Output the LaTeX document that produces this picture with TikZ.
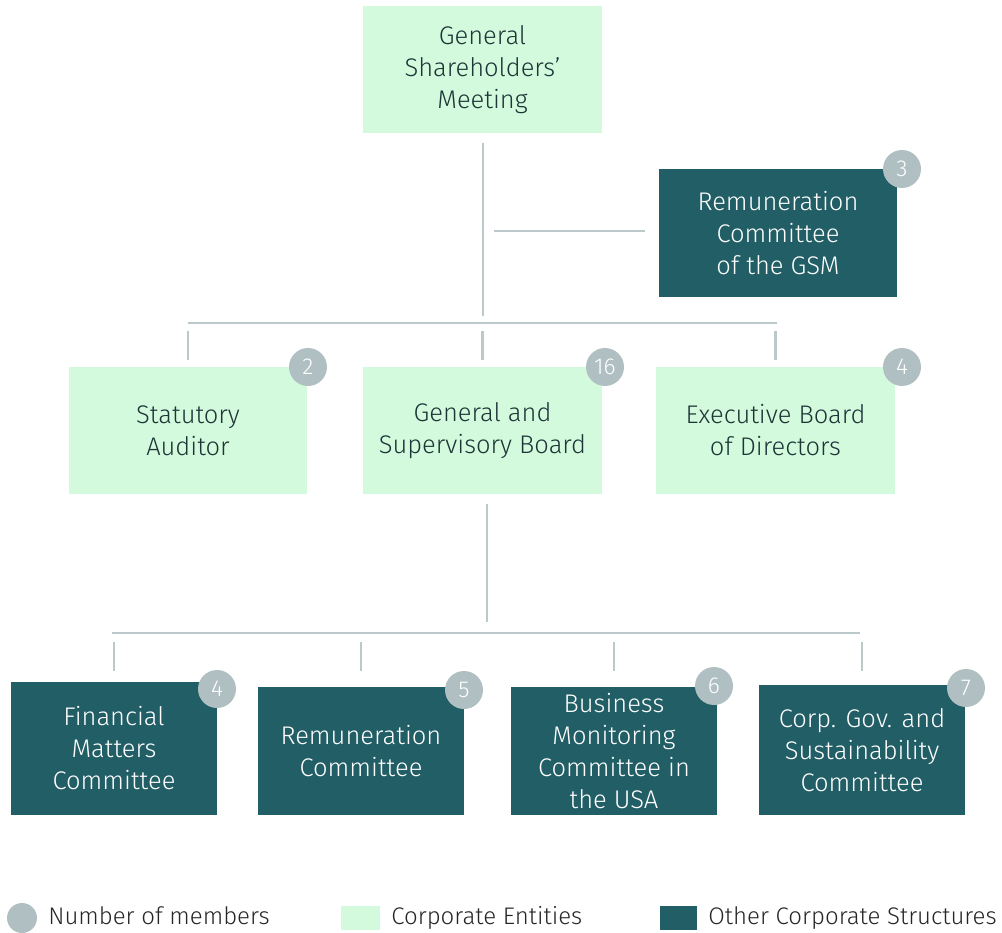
\documentclass[tikz,border=0pt]{standalone}
\usepackage{fontspec}
\setmainfont{Fira Sans}[UprightFont={* Light}]
\usetikzlibrary{positioning}

\definecolor{entitygreen}{HTML}{D4FADD}
\definecolor{structteal}{HTML}{225E66}
\definecolor{badgegray}{HTML}{B0BFC1}
\definecolor{linkgray}{HTML}{BCC9CB}
\definecolor{inkdark}{HTML}{1E3538}

\tikzset{
    entity/.style={fill=entitygreen, text=inkdark, align=center, inner sep=0pt, font=\fontsize{25.5}{32}\selectfont},
    structure/.style={fill=structteal, text=white, align=center, inner sep=0pt, font=\fontsize{25.5}{32}\selectfont},
    badge/.style={circle, fill=badgegray, text=white, minimum size=38pt, inner sep=0pt, font=\fontsize{23}{23}\selectfont},
    link/.style={draw=linkgray, line width=2.6pt},
    legendtext/.style={anchor=west, inner sep=0pt, text height=17pt, text depth=5pt, text=black!85, font=\fontsize{24}{24}\selectfont}
}

\begin{document}
\begin{tikzpicture}[x=1pt, y=-1pt]
    \useasboundingbox (0,0) rectangle (1002,933);

    % Top level
    \node[entity, minimum width=239pt, minimum height=127pt] (gsm) at (482.5,69.5) {General\\Shareholders'\\Meeting};
    \node[structure, minimum width=238pt, minimum height=128pt] (remgsm) at (778,233) {Remuneration\\Committee\\of the GSM};
    \node[badge] (remgsmn) at (902,169) {3};

    % Corporate entities
    \node[entity, minimum width=238pt, minimum height=127pt] (auditor) at (188,430.5) {Statutory\\Auditor};
    \node[entity, minimum width=239pt, minimum height=127pt] (gsb) at (482.5,430.5) {General and\\Supervisory Board};
    \node[entity, minimum width=239pt, minimum height=127pt] (exec) at (775.5,430.5) {Executive Board\\of Directors};
    \node[badge] (auditorn) at (308,367) {2};
    \node[badge] (gsbn) at (605,367) {16};
    \node[badge] (execn) at (902,367) {4};

    % Committees
    \node[structure, minimum width=206pt, minimum height=133pt] (finc) at (114,748.5) {Financial\\Matters\\Committee};
    \node[structure, minimum width=206pt, minimum height=128pt] (remc) at (361,751) {Remuneration\\Committee};
    \node[structure, minimum width=206pt, minimum height=128pt] (busc) at (614,751) {Business\\Monitoring\\Committee in\\the USA};
    \node[structure, minimum width=206pt, minimum height=130pt] (corpc) at (862,750) {Corp. Gov. and\\Sustainability\\Committee};
    \node[badge] (fincn) at (217,689) {4};
    \node[badge] (remcn) at (464,690) {5};
    \node[badge] (buscn) at (714,686) {6};
    \node[badge] (corpcn) at (966,688) {7};

    % Connectors
    \coordinate (gsmjoin) at (483,316);
    \coordinate (remjoin) at (494,231);
    \coordinate (busleft) at (188,323);
    \coordinate (busright) at (777,323);
    \coordinate (gsbjoin) at (487,622);
    \coordinate (comleft) at (112,633);
    \coordinate (comright) at (860,633);

    \draw[link] (gsmjoin |- 0,143) -- (gsmjoin);
    \draw[link] (remjoin) -- (remjoin -| 645,0);
    \draw[link] (busleft) -- (busright);
    \foreach \nd in {auditor, gsb, exec}
        \draw[link] ([yshift=36pt]\nd.north) -- ([yshift=7pt]\nd.north);
    \draw[link] (gsbjoin |- 0,504) -- (gsbjoin);
    \draw[link] (comleft) -- (comright);
    \foreach \nd in {finc, remc, busc, corpc}
        \draw[link] (\nd.north |- 0,642) -- (\nd.north |- 0,671);

    % Legend
    \node[circle, fill=badgegray, minimum size=30pt, inner sep=0pt] (legmembers) at (22,918) {};
    \node[legendtext, right=11pt of legmembers] {Number of members};
    \node[fill=entitygreen, minimum width=39pt, minimum height=24pt, inner sep=0pt] (legentity) at (360.5,918) {};
    \node[legendtext, right=11pt of legentity] {Corporate Entities};
    \node[fill=structteal, minimum width=37pt, minimum height=24pt, inner sep=0pt] (legstruct) at (678.5,918) {};
    \node[legendtext, right=11pt of legstruct] {Other Corporate Structures};
\end{tikzpicture}
\end{document}
